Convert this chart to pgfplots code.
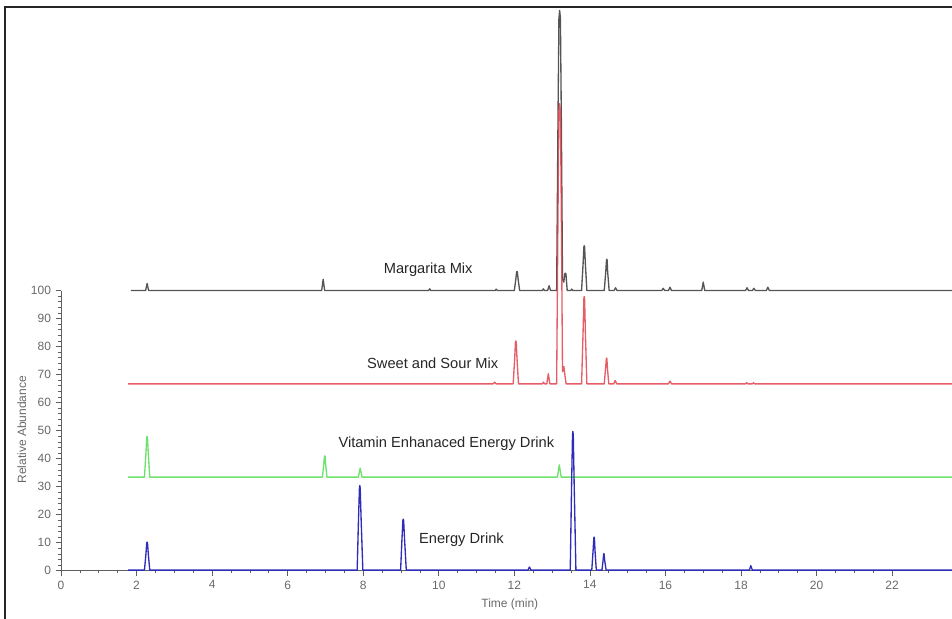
\documentclass[border=0pt]{standalone}
\usepackage{pgfplots}
\pgfplotsset{compat=1.18}
\usepackage{fontspec}
\setmainfont{Liberation Sans}
\definecolor{axisgray}{RGB}{95,95,95}
\definecolor{labelgray}{RGB}{105,105,105}
\definecolor{margarita}{RGB}{85,85,85}
\definecolor{sourmix}{RGB}{225,65,75}
\definecolor{vitamin}{RGB}{110,225,110}
\definecolor{energy}{RGB}{45,45,185}

\begin{document}
\begin{tikzpicture}
\begin{axis}[
  x=28.35pt, y=2.1023pt,
  xmin=0, xmax=23.585, ymin=0, ymax=100,
  axis x line=bottom, axis y line=left,
  axis line style={-, draw=axisgray, line width=0.6pt},
  clip=false,
  xtick={0,2,...,22}, ytick={0,10,...,100},
  minor x tick num=3, minor y tick num=4,
  tick align=outside,
  major tick length=4pt, minor tick length=2pt,
  tick style={axisgray, line width=0.5pt},
  ticklabel style={font=\fontsize{9}{10}\selectfont, text=labelgray},
  /pgf/number format/assume math mode=true,
  xlabel={Time (min)}, ylabel={Relative Abundance},
  every axis x label/.style={at={(axis cs:11.88,0)}, anchor=center, yshift=-25.5pt},
  every axis y label/.style={at={(axis cs:-1.034,50.3)}, rotate=90, anchor=center},
  label style={font=\fontsize{9}{10}\selectfont, text=labelgray},
  every axis plot/.append style={line width=1pt, line join=round},
]
% Margarita Mix, baseline 100
\addplot[margarita] coordinates {
(1.85,100)
(2.24,100)(2.28,102.5)(2.32,100)
(6.90,100)(6.94,104)(6.98,100)
(9.73,100)(9.76,100.6)(9.79,100)
(11.49,100)(11.52,100.5)(11.55,100)
(12.00,100)(12.04,104.1)(12.06,106.6)(12.07,106.8)(12.08,106.6)(12.10,104.1)(12.14,100)
(12.74,100)(12.77,100.6)(12.80,100)
(12.88,100)(12.92,101.7)(12.96,100)
(13.12,100)(13.155,160)(13.18,197)(13.20,200)(13.22,197)(13.245,160)(13.275,104)
(13.31,103)(13.335,106)(13.35,106.2)(13.365,106)(13.40,100)
(13.49,100)(13.52,100.5)(13.55,100)
(13.78,100)(13.82,109.6)(13.84,115.5)(13.85,116)(13.86,115.5)(13.88,109.6)(13.92,100)
(14.38,100)(14.42,106.7)(14.44,110.9)(14.445,111.2)(14.455,110.9)(14.47,106.7)(14.51,100)
(14.64,100)(14.68,101)(14.72,100)
(15.90,100)(15.94,100.8)(15.98,100)
(16.08,100)(16.12,101.2)(16.16,100)
(16.96,100)(17.00,103)(17.04,100)
(18.12,100)(18.16,101)(18.20,100)
(18.30,100)(18.34,100.8)(18.38,100)
(18.67,100)(18.71,101.2)(18.75,100)
(23.585,100)
};
% Sweet and Sour Mix, baseline 66.7
\addplot[sourmix, opacity=0.85] coordinates {
(1.78,66.7)
(11.44,66.7)(11.48,67.3)(11.52,66.7)
(11.97,66.7)(12.01,75.9)(12.03,81.7)(12.04,82)(12.05,81.7)(12.07,75.9)(12.11,66.7)
(12.74,66.7)(12.77,67.3)(12.80,66.7)
(12.86,66.7)(12.90,70.3)(12.94,66.7)
(13.12,66.7)(13.155,126.7)(13.18,163.7)(13.20,166.7)(13.22,163.7)(13.245,126.7)(13.275,71)
(13.31,72.9)(13.37,66.7)
(13.78,66.7)(13.82,85.4)(13.84,97)(13.85,97.9)(13.86,97)(13.88,85.4)(13.92,66.7)
(14.38,66.7)(14.415,72.2)(14.435,75.6)(14.44,75.9)(14.45,75.6)(14.465,72.2)(14.50,66.7)
(14.63,66.7)(14.67,67.9)(14.71,66.7)
(16.08,66.7)(16.12,67.7)(16.16,66.7)
(18.12,66.7)(18.15,67.1)(18.18,66.7)
(18.30,66.7)(18.33,67.1)(18.36,66.7)
(23.585,66.7)
};
% Vitamin Enhanaced Energy Drink, baseline 33.4
\addplot[vitamin] coordinates {
(1.78,33.4)
(2.21,33.4)(2.25,42.1)(2.27,47.5)(2.28,47.9)(2.29,47.5)(2.31,42.1)(2.35,33.4)
(6.92,33.4)(6.955,38)(6.975,40.8)(6.98,41)(6.99,40.8)(7.005,38)(7.04,33.4)
(7.87,33.4)(7.92,36.6)(7.97,33.4)
(13.14,33.4)(13.19,37.8)(13.24,33.4)
(23.585,33.4)
};
% Energy Drink, baseline 0
\addplot[energy] coordinates {
(1.78,0.2)
(2.21,0.2)(2.25,6.2)(2.27,9.9)(2.28,10.2)(2.29,9.9)(2.31,6.2)(2.35,0.2)
(7.84,0.2)(7.875,18.3)(7.90,29.5)(7.91,30.4)(7.92,29.5)(7.945,18.3)(7.99,0.2)
(8.99,0.2)(9.025,11.1)(9.05,17.9)(9.06,18.4)(9.07,17.9)(9.095,11.1)(9.14,0.2)
(12.36,0.2)(12.40,1.3)(12.44,0.2)
(13.48,0.2)(13.515,30)(13.54,48.5)(13.55,49.7)(13.56,48.5)(13.585,30)(13.63,0.2)
(14.05,0.2)(14.085,7.3)(14.105,11.7)(14.11,12)(14.12,11.7)(14.135,7.3)(14.17,0.2)
(14.32,0.2)(14.35,3.8)(14.365,5.9)(14.37,6.1)(14.375,5.9)(14.39,3.8)(14.43,0.2)
(18.22,0.2)(18.26,1.8)(18.30,0.2)
(23.585,0.2)
};
% trace names
\node[anchor=base, font=\fontsize{11}{13}\selectfont, text=black!85] at (axis cs:9.72,106.2) {Margarita Mix};
\node[anchor=base, font=\fontsize{11}{13}\selectfont, text=black!85] at (axis cs:9.84,72.0) {Sweet and Sour Mix};
\node[anchor=base, font=\fontsize{11}{13}\selectfont, text=black!85] at (axis cs:10.2,44.0) {Vitamin Enhanaced Energy Drink};
\node[anchor=base, font=\fontsize{11}{13}\selectfont, text=black!85] at (axis cs:10.6,9.8) {Energy Drink};
% picture frame (top and left edges only, the rest is cropped)
\draw[line width=1.5pt, black!85] (axis cs:-1.481,-17.2) -- (axis cs:-1.481,201.2) -- (axis cs:23.7,201.2);
\coordinate (bl) at (axis cs:-1.614,-17.12);
\coordinate (tr) at (axis cs:23.585,203.71);
\end{axis}
\pgfresetboundingbox
\path[use as bounding box] (bl) rectangle (tr);
\end{tikzpicture}
\end{document}
